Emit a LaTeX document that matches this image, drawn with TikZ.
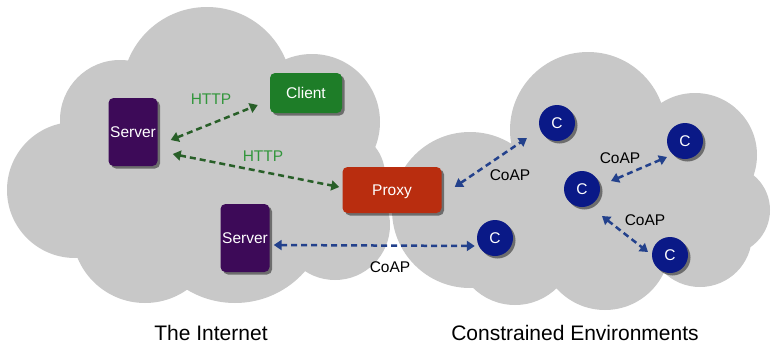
\documentclass[tikz,border=0pt]{standalone}
\usepackage{fontspec}
\setmainfont{Liberation Sans}
\usetikzlibrary{arrows.meta,shadows,calc}
\definecolor{cloudgray}{RGB}{200,200,200}
\definecolor{srvpurple}{RGB}{61,10,88}
\definecolor{clgreen}{RGB}{30,125,40}
\definecolor{pxred}{RGB}{185,45,15}
\definecolor{cblue}{RGB}{10,25,135}
\definecolor{httpgreen}{RGB}{50,150,60}
\definecolor{arrgreen}{RGB}{40,95,40}
\definecolor{arrblue}{RGB}{35,65,140}
\begin{document}
\begin{tikzpicture}[x=1pt,y=-1pt,
  shd/.style={drop shadow={shadow xshift=2.5pt,shadow yshift=-2.5pt,fill=black,opacity=0.45}},
  boxnode/.style={shd,rounded corners=5pt,inner sep=0pt,text=white,
    font=\fontsize{15.5}{18}\selectfont,text height=11pt,text depth=0pt},
  server/.style={boxnode,fill=srvpurple,minimum width=49pt,minimum height=68pt},
  client/.style={boxnode,fill=clgreen,minimum width=72pt,minimum height=40pt},
  proxy/.style={boxnode,fill=pxred,minimum width=99pt,minimum height=46pt},
  cnode/.style={shd,circle,fill=cblue,minimum size=36pt,inner sep=0pt,text=white,
    font=\fontsize{15.5}{18}\selectfont,text height=11pt,text depth=0pt},
  lbl/.style={inner sep=0pt,font=\fontsize{15.5}{18}\selectfont,text height=11pt,text depth=0pt},
  httplbl/.style={lbl,text=httpgreen},
  coaplbl/.style={lbl,text=black},
  title/.style={inner sep=0pt,font=\fontsize{21}{25}\selectfont,anchor=base},
  link/.style={line width=2.5pt,dash pattern=on 6pt off 4pt,
    {Triangle[length=8pt,width=10pt]}-{Triangle[length=8pt,width=10pt]}},
  httplink/.style={link,draw=arrgreen},
  coaplink/.style={link,draw=arrblue}]
\useasboundingbox (0,0) rectangle (772,346);
\fill[white] (0,0) rectangle (772,346);
% The Internet cloud
\fill[cloudgray]
  (207,92) circle[radius=85]
  (120,120) circle[radius=60]
  (75,190) circle[radius=68]
  (145,230) circle[radius=73]
  (235,210) circle[radius=93]
  (335,225) circle[radius=55]
  (312,122) circle[radius=68]
  (340,175) circle[radius=45]
  (200,180) circle[radius=110];
% Constrained environments cloud
\fill[cloudgray]
  (470,210) circle[radius=78]
  (588,130) circle[radius=78]
  (695,155) circle[radius=62]
  (725,210) circle[radius=45]
  (700,235) circle[radius=52]
  (605,245) circle[radius=65]
  (515,245) circle[radius=60]
  (600,195) circle[radius=90];
% nodes
\node[server] (s1) at (133,132) {Server};
\node[client] (cl) at (306,93) {Client};
\node[proxy] (px) at (392,190) {Proxy};
\node[server] (s2) at (245,238) {Server};
\node[cnode] (c1) at (557,123) {C};
\node[cnode] (c2) at (685,141) {C};
\node[cnode] (c3) at (582,189) {C};
\node[cnode] (c4) at (670,255) {C};
\node[cnode] (c5) at (495,238) {C};
% connectors
\draw[httplink] ($(s1.east)+(13,8)$) -- ($(cl.west)+(-12,12)$);
\draw[httplink] ($(s1.east)+(15,22)$) -- ($(px.west)+(-3,-3)$);
\draw[coaplink] ($(s2.east)+(4,7)$) -- ($(c5.west)+(-2,8)$);
\draw[coaplink] ($(px.east)+(13,-3)$) -- ($(c1)+(-30,15)$);
\draw[coaplink] ($(c3)+(29,-8)$) -- ($(c2)+(-18,16)$);
\draw[coaplink] ($(c3)+(20,27)$) -- ($(c4)+(-22,-3)$);
% labels
\node[httplbl] (h1) at (211,99) {HTTP};
\node[httplbl] (h2) at (263,156) {HTTP};
\node[coaplbl] (k1) at (510,175) {CoAP};
\node[coaplbl] (k2) at (620,158) {CoAP};
\node[coaplbl] (k3) at (645,220) {CoAP};
\node[coaplbl] (k4) at (390,267) {CoAP};
\node[title] (t1) at (211,340) {The Internet};
\node[title] (t2) at (575,340) {Constrained Environments};
\end{tikzpicture}
\end{document}
